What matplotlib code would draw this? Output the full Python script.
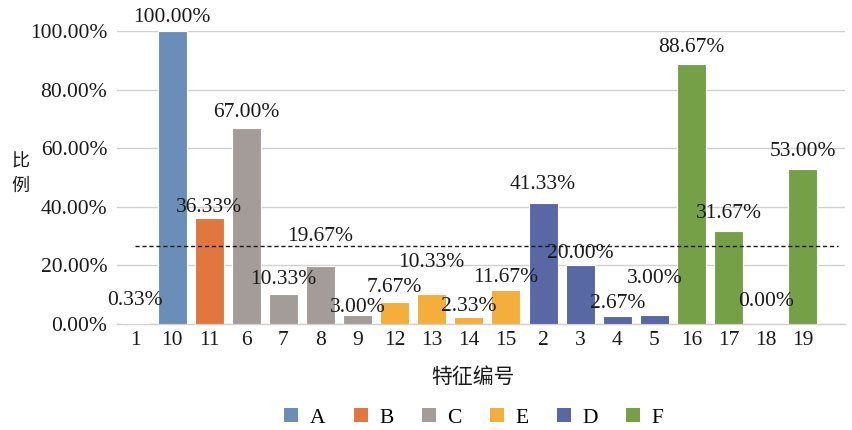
import numpy as np
import matplotlib.pyplot as plt
from matplotlib.patches import Patch

plt.rcParams['font.family'] = ['Liberation Serif', 'Noto Sans CJK SC']

features = ['1', '10', '11', '6', '7', '8', '9', '12', '13', '14', '15',
            '2', '3', '4', '5', '16', '17', '18', '19']
groups = ['A', 'A', 'B', 'C', 'C', 'C', 'C', 'E', 'E', 'E', 'E',
          'D', 'D', 'D', 'D', 'F', 'F', 'F', 'F']
ratio = [0.33, 100.00, 36.33, 67.00, 10.33, 19.67, 3.00, 7.67, 10.33, 2.33, 11.67,
         41.33, 20.00, 2.67, 3.00, 88.67, 31.67, 0.00, 53.00]

group_order = ['A', 'B', 'C', 'E', 'D', 'F']
group_colors = {'A': '#6b8eb9', 'B': '#e0773f', 'C': '#a39c98',
                'E': '#f4ae3c', 'D': '#5868a5', 'F': '#76a048'}

# label height above the bar top, in pixels (labels were nudged by hand)
label_dy = [23, 14, 10, 15, 14, 30, 8, 14, 31, 11, 12, 18, 12, 13, 37, 17, 18, 22, 17]

vals = np.array(ratio) / 100
x = np.arange(len(features))

fig = plt.figure(figsize=(8.52, 4.30), dpi=100)
ax = fig.add_axes([117 / 852, 106 / 430, 728 / 852, 293 / 430])

ax.bar(x, vals, width=0.78, color=[group_colors[g] for g in groups],
       edgecolor='white', linewidth=0.8, zorder=3)

for xi, v, dy in zip(x, vals, label_dy):
    ax.annotate(f'{v * 100:.2f}%', (xi, v), xytext=(0, dy * 0.72),
                textcoords='offset points', ha='center', va='center',
                fontsize=15.5, color='#1a1a1a', zorder=5)

# mean line
mean_val = vals.mean()
ax.plot([0, 18.95], [mean_val, mean_val], ls=(0, (3, 2)), color='#1a1a1a',
        lw=1.0, zorder=4)

ax.set_xlim(-0.485, 19.14)
ax.set_ylim(0, 1)
ax.set_yticks(np.arange(0, 1.01, 0.2))
ax.set_yticklabels([f'{t * 100:.2f}%' for t in np.arange(0, 1.01, 0.2)])
ax.set_xticks(x)
ax.set_xticklabels(features)
ax.tick_params(axis='both', length=0, labelsize=15.5, colors='#1a1a1a')
ax.tick_params(axis='y', pad=7)
ax.tick_params(axis='x', pad=5)
ax.yaxis.grid(True, color='#d6cfd2', lw=1.0, zorder=0)
for side in ['top', 'right', 'left']:
    ax.spines[side].set_visible(False)
ax.spines['bottom'].set_color('#d6cfd2')
ax.spines['bottom'].set_linewidth(1.0)

fig.text(473 / 852, 1 - 377 / 430, '特征编号', ha='center', va='center',
         fontsize=15, family=['Noto Sans CJK SC'], color='#1a1a1a')
fig.text(20 / 852, 1 - 174 / 430, '比\n例', ha='center', va='center',
         fontsize=13, linespacing=1.45, family=['Noto Sans CJK SC'], color='#1a1a1a')

handles = [Patch(facecolor=group_colors[g], edgecolor='none') for g in group_order]
fig.legend(handles, group_order, loc='center', bbox_to_anchor=(474 / 852, 1 - 418 / 430),
           ncol=6, frameon=False, fontsize=15.5, handlelength=0.65, handleheight=0.65,
           handletextpad=0.55, columnspacing=1.3)

fig.savefig('out.png', dpi=100)
